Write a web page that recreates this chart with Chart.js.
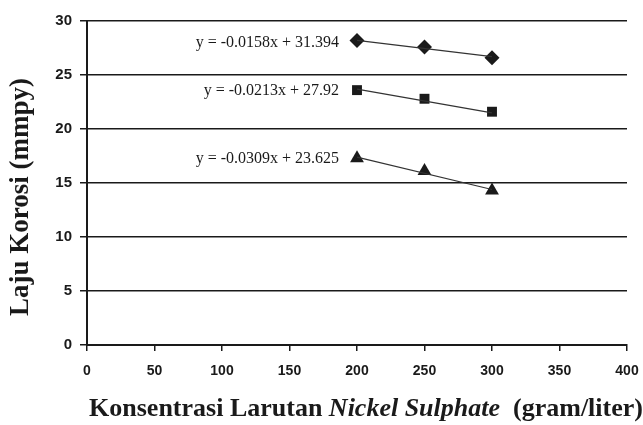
<!DOCTYPE html>
<html>
<head>
<meta charset="utf-8">
<script src="https://cdn.jsdelivr.net/npm/chart.js@4"></script>
<style>
  html, body { margin: 0; padding: 0; background: #fff; }
  #wrap { width: 643px; height: 425px; }
</style>
</head>
<body>
<div id="wrap"><canvas id="korosiChart"></canvas></div>
<script>
// data
const konsentrasi = [200, 250, 300];
const lajuBelahKetupat = [28.2, 27.6, 26.6];
const lajuKotak = [23.6, 22.8, 21.6];
const lajuSegitiga = [17.3, 16.1, 14.3];

// ujung garis tren
const trenX = [200, 300];
const trenBelahKetupat = [28.2, 26.7];
const trenKotak = [23.7, 21.5];
const trenSegitiga = [17.4, 14.4];

const persamaan = [
  'y = -0.0158x + 31.394',
  'y = -0.0213x + 27.92',
  'y = -0.0309x + 23.625',
];

const xTicks = [0, 50, 100, 150, 200, 250, 300, 350, 400];
const yTicks = [0, 5, 10, 15, 20, 25, 30];

const ink = '#1a1a1a';
const toPoints = (xs, ys) => xs.map((x, i) => ({ x, y: ys[i] }));

const markerSet = (data, style, radius) => ({
  type: 'scatter',
  data: toPoints(konsentrasi, data),
  pointStyle: style,
  pointRadius: radius,
  pointBackgroundColor: ink,
  pointBorderColor: ink,
  borderWidth: 0,
  showLine: false,
});

const trendSet = (data) => ({
  type: 'line',
  data: toPoints(trenX, data),
  borderColor: '#333',
  borderWidth: 1.2,
  pointRadius: 0,
  fill: false,
  tension: 0,
});

// teks persamaan + judul sumbu
const labelPlugin = {
  id: 'labelPlugin',
  afterDraw(chart) {
    const ctx = chart.ctx;
    const x = chart.scales.x;
    const y = chart.scales.y;
    ctx.save();
    ctx.fillStyle = ink;
    ctx.font = '16px "Liberation Serif"';
    ctx.textAlign = 'right';
    ctx.textBaseline = 'middle';
    [trenBelahKetupat, trenKotak, trenSegitiga].forEach((d, i) => {
      ctx.fillText(persamaan[i], x.getPixelForValue(trenX[0]) - 18, y.getPixelForValue(d[0]) + 2);
    });

    // judul sumbu y
    ctx.save();
    ctx.translate(21, (chart.chartArea.top + chart.chartArea.bottom) / 2 + 14);
    ctx.rotate(-Math.PI / 2);
    ctx.textAlign = 'center';
    ctx.textBaseline = 'middle';
    ctx.font = 'bold 27px "Liberation Serif"';
    ctx.fillText('Laju Korosi (mmpy)', 0, 0);
    ctx.restore();

    // judul sumbu x, sebagian miring
    const parts = [
      ['bold 26px "Liberation Serif"', 'Konsentrasi Larutan '],
      ['italic bold 26px "Liberation Serif"', 'Nickel Sulphate'],
      ['bold 26px "Liberation Serif"', '  (gram/liter)'],
    ];
    let total = 0;
    parts.forEach(([f, t]) => { ctx.font = f; total += ctx.measureText(t).width; });
    let cx = 366 - total / 2;
    ctx.textAlign = 'left';
    ctx.textBaseline = 'alphabetic';
    parts.forEach(([f, t]) => {
      ctx.font = f;
      ctx.fillText(t, cx, 416);
      cx += ctx.measureText(t).width;
    });
    ctx.restore();
  },
};

new Chart(document.getElementById('korosiChart'), {
  data: {
    datasets: [
      trendSet(trenBelahKetupat),
      trendSet(trenKotak),
      trendSet(trenSegitiga),
      markerSet(lajuBelahKetupat, 'rectRot', 7.5),
      markerSet(lajuKotak, 'rect', 7),
      markerSet(lajuSegitiga, 'triangle', 8),
    ],
  },
  options: {
    animation: false,
    responsive: true,
    maintainAspectRatio: false,
    layout: { padding: { top: 21, right: 0, left: 0, bottom: 0 } },
    plugins: { legend: { display: false }, tooltip: { enabled: false } },
    scales: {
      x: {
        type: 'linear',
        min: 0,
        max: 400,
        afterBuildTicks: (s) => { s.ticks = xTicks.map((v) => ({ value: v })); },
        afterFit: (s) => { s.height = 80; s.paddingRight = 16; },
        grid: { drawOnChartArea: false, drawTicks: true, tickLength: 6, color: ink, lineWidth: 1.5 },
        border: { color: ink, width: 2 },
        ticks: { color: ink, padding: 12, font: { family: '"Liberation Sans"', weight: 'bold', size: 14 } },
      },
      y: {
        min: 0,
        max: 30,
        afterBuildTicks: (s) => { s.ticks = yTicks.map((v) => ({ value: v })); },
        afterFit: (s) => { s.width = 87; },
        grid: { color: ink, lineWidth: 1.5, tickLength: 7 },
        border: { color: ink, width: 2 },
        ticks: { color: ink, padding: 8, font: { family: '"Liberation Sans"', weight: 'bold', size: 15 } },
      },
    },
  },
  plugins: [labelPlugin],
});
</script>
</body>
</html>
